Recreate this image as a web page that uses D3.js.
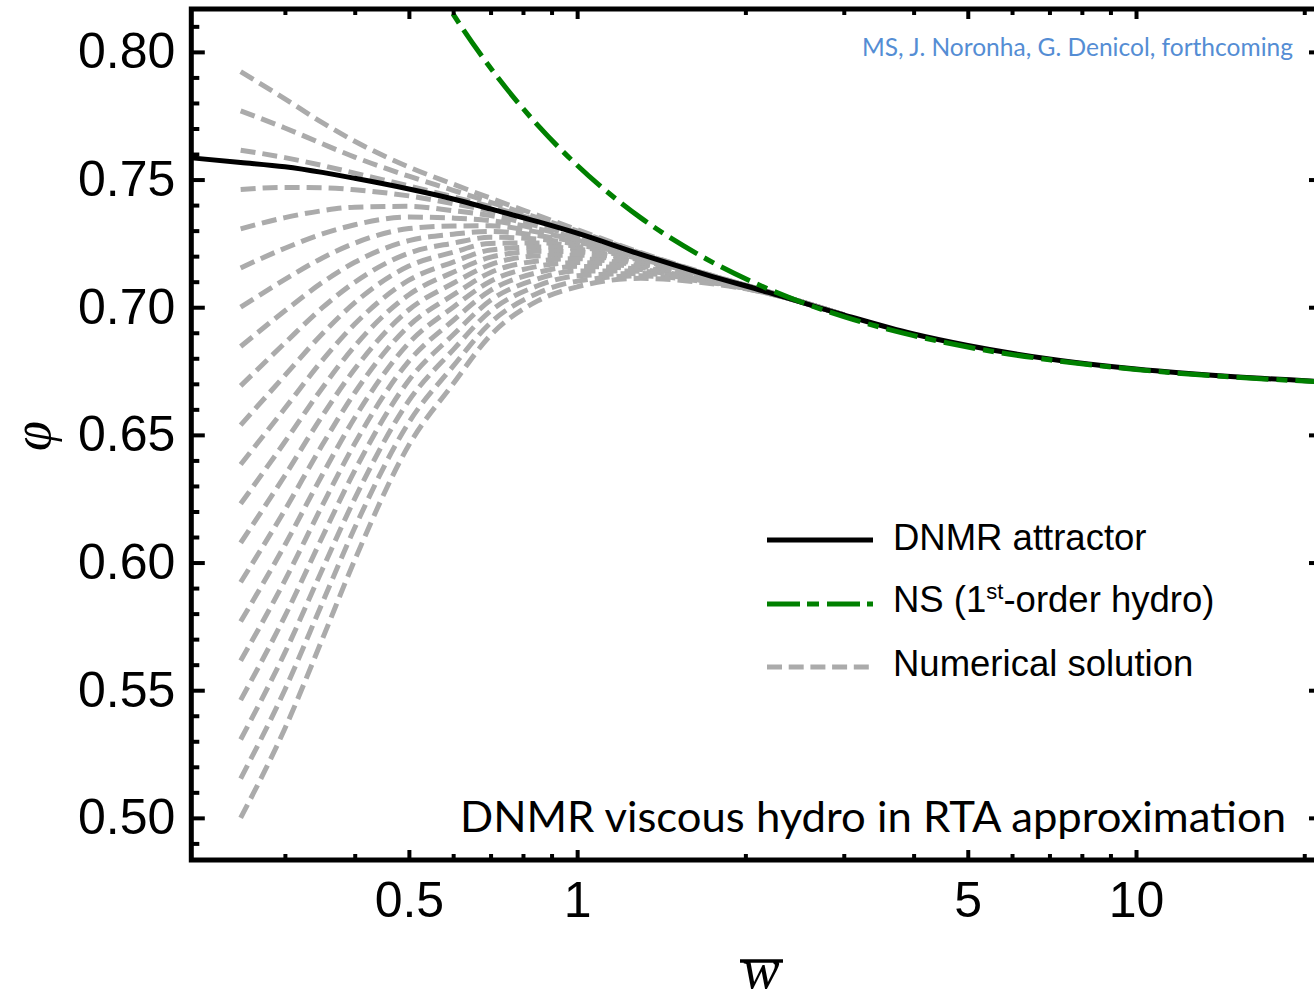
<!DOCTYPE html>
<html>
<head>
<meta charset="utf-8">
<script src="https://cdn.jsdelivr.net/npm/d3@7"></script>
<style>
  body { margin: 0; background: #fff; }
  svg { display: block; }
</style>
</head>
<body>
<div id="chart"></div>
<script>
const wGrid = [0.25, 0.3, 0.35, 0.4, 0.5, 0.6, 0.7, 0.85, 1.0, 1.3, 1.7, 2.2, 3.0];

// phi of the 20 numerical solutions (gray dashed), top start to bottom start
const numerical = [
  [0.7923, 0.7816, 0.7723, 0.7650, 0.7549, 0.7482, 0.7427, 0.7360, 0.7304, 0.7214, 0.7132, 0.7060, 0.6970],
  [0.7769, 0.7702, 0.7640, 0.7588, 0.7513, 0.7458, 0.7411, 0.7350, 0.7299, 0.7212, 0.7131, 0.7060, 0.6970],
  [0.7615, 0.7586, 0.7555, 0.7525, 0.7475, 0.7432, 0.7394, 0.7340, 0.7293, 0.7209, 0.7130, 0.7060, 0.6970],
  [0.7461, 0.7469, 0.7468, 0.7460, 0.7436, 0.7406, 0.7377, 0.7330, 0.7287, 0.7206, 0.7129, 0.7060, 0.6970],
  [0.7307, 0.7351, 0.7378, 0.7392, 0.7395, 0.7378, 0.7359, 0.7318, 0.7279, 0.7203, 0.7128, 0.7060, 0.6970],
  [0.7154, 0.7231, 0.7287, 0.7323, 0.7353, 0.7349, 0.7339, 0.7307, 0.7271, 0.7199, 0.7127, 0.7060, 0.6970],
  [0.7000, 0.7109, 0.7193, 0.7251, 0.7308, 0.7318, 0.7319, 0.7294, 0.7263, 0.7196, 0.7125, 0.7059, 0.6970],
  [0.6846, 0.6986, 0.7097, 0.7176, 0.7261, 0.7286, 0.7297, 0.7281, 0.7255, 0.7192, 0.7124, 0.7059, 0.6970],
  [0.6692, 0.6860, 0.6998, 0.7098, 0.7212, 0.7251, 0.7274, 0.7267, 0.7246, 0.7188, 0.7123, 0.7059, 0.6970],
  [0.6538, 0.6733, 0.6896, 0.7018, 0.7161, 0.7215, 0.7250, 0.7252, 0.7238, 0.7183, 0.7121, 0.7058, 0.6970],
  [0.6384, 0.6604, 0.6792, 0.6934, 0.7106, 0.7177, 0.7224, 0.7236, 0.7228, 0.7178, 0.7119, 0.7058, 0.6970],
  [0.6230, 0.6473, 0.6684, 0.6848, 0.7049, 0.7137, 0.7196, 0.7219, 0.7217, 0.7173, 0.7117, 0.7058, 0.6970],
  [0.6077, 0.6341, 0.6575, 0.6758, 0.6990, 0.7094, 0.7167, 0.7201, 0.7204, 0.7168, 0.7115, 0.7057, 0.6970],
  [0.5923, 0.6206, 0.6461, 0.6665, 0.6927, 0.7048, 0.7136, 0.7181, 0.7190, 0.7162, 0.7113, 0.7057, 0.6970],
  [0.5769, 0.6069, 0.6344, 0.6567, 0.6860, 0.7000, 0.7102, 0.7160, 0.7175, 0.7155, 0.7111, 0.7056, 0.6970],
  [0.5615, 0.5930, 0.6224, 0.6466, 0.6789, 0.6948, 0.7066, 0.7136, 0.7160, 0.7148, 0.7108, 0.7056, 0.6969],
  [0.5461, 0.5790, 0.6100, 0.6360, 0.6714, 0.6892, 0.7027, 0.7111, 0.7142, 0.7141, 0.7105, 0.7055, 0.6969],
  [0.5307, 0.5647, 0.5973, 0.6250, 0.6634, 0.6833, 0.6985, 0.7084, 0.7123, 0.7132, 0.7102, 0.7055, 0.6969],
  [0.5154, 0.5502, 0.5842, 0.6136, 0.6549, 0.6769, 0.6939, 0.7055, 0.7102, 0.7123, 0.7099, 0.7054, 0.6969],
  [0.5000, 0.5350, 0.5700, 0.6010, 0.6460, 0.6700, 0.6890, 0.7025, 0.7080, 0.7113, 0.7095, 0.7054, 0.6969]
];

// DNMR attractor (black)
const attractorW   = [0.204, 0.25, 0.3, 0.35, 0.4, 0.5, 0.6, 0.7, 0.85, 1.0, 1.3, 1.7, 2.2, 3, 4, 5, 7, 10, 15, 21];
const attractorPhi = [0.7585, 0.7567, 0.7550, 0.7528, 0.7505, 0.7463, 0.7424, 0.7385, 0.7335, 0.7290, 0.7207, 0.7128, 0.7058, 0.6970, 0.6895, 0.6850, 0.6797, 0.6758, 0.6728, 0.6710];

// Navier-Stokes, 1st order hydro (green dash-dot)
const nsW   = [0.55, 0.6, 0.7, 0.85, 1.0, 1.3, 1.7, 2.2, 3, 4, 5, 7, 10, 15, 21];
const nsPhi = [0.8283, 0.8148, 0.7937, 0.7713, 0.7556, 0.7350, 0.7190, 0.7071, 0.6963, 0.6889, 0.6844, 0.6794, 0.6756, 0.6726, 0.6709];

// ticks
const xMajor = [0.5, 1, 5, 10];
const xMajorLabels = ["0.5", "1", "5", "10"];
const xMinor = [0.3, 0.4, 0.6, 0.7, 0.8, 0.9, 2, 3, 4, 6, 7, 8, 9, 20];
const yMajor = [0.50, 0.55, 0.60, 0.65, 0.70, 0.75, 0.80];
const yMinor = d3.range(49, 82).map(d => d / 100).filter(v => !yMajor.some(m => Math.abs(m - v) < 1e-9));

const legendItems = ["DNMR attractor", "NS", "Numerical solution"];

const width = 1314, height = 1001;
const frameL = 191.3, frameT = 9, frameB = 860, frameR = 1318;

const x = d3.scaleLog().domain([0.204, 21]).range([frameL, 1316.1]);
const y = d3.scaleLinear().domain([0.4835, 0.8168]).range([frameB, frameT]);

const svg = d3.select("#chart").append("svg")
    .attr("width", width)
    .attr("height", height)
    .attr("viewBox", [0, 0, width, height]);

svg.append("defs").append("clipPath").attr("id", "plot")
  .append("rect")
    .attr("x", frameL).attr("y", frameT)
    .attr("width", frameR - frameL).attr("height", frameB - frameT);

const line = d3.line()
    .x(d => x(d[0]))
    .y(d => y(d[1]))
    .curve(d3.curveMonotoneX);

const plot = svg.append("g").attr("clip-path", "url(#plot)");

// gray numerical solutions
plot.append("g")
  .selectAll("path")
  .data(numerical)
  .join("path")
    .attr("d", row => line(row.map((p, i) => [wGrid[i], p])))
    .attr("fill", "none")
    .attr("stroke", "#ababab")
    .attr("stroke-width", 5)
    .attr("stroke-dasharray", "15,7");

// black attractor
plot.append("path")
    .attr("d", line(attractorW.map((w, i) => [w, attractorPhi[i]])))
    .attr("fill", "none")
    .attr("stroke", "#000")
    .attr("stroke-width", 5);

// green NS
plot.append("path")
    .attr("d", line(nsW.map((w, i) => [w, nsPhi[i]])))
    .attr("fill", "none")
    .attr("stroke", "#008000")
    .attr("stroke-width", 5)
    .attr("stroke-dasharray", "32,8,11,8");

// frame
svg.append("rect")
    .attr("x", frameL).attr("y", frameT)
    .attr("width", frameR - frameL).attr("height", frameB - frameT)
    .attr("fill", "none")
    .attr("stroke", "#000")
    .attr("stroke-width", 5);

function styleAxis(g, size) {
  g.select(".domain").remove();
  g.selectAll("line").attr("stroke-width", 4);
  g.attr("font-family", "'Liberation Sans', Arial, sans-serif").attr("font-size", size);
}

// bottom axis
svg.append("g")
    .attr("transform", `translate(0,${frameB})`)
    .call(d3.axisBottom(x).tickValues(xMajor).tickSize(-10).tickPadding(21.5)
      .tickFormat((d, i) => xMajorLabels[i]))
    .call(g => styleAxis(g, 50));
svg.append("g")
    .attr("transform", `translate(0,${frameB})`)
    .call(d3.axisBottom(x).tickValues(xMinor).tickSize(-6).tickFormat(""))
    .call(g => styleAxis(g, 10));

// top axis (ticks only)
svg.append("g")
    .attr("transform", `translate(0,${frameT})`)
    .call(d3.axisTop(x).tickValues(xMajor).tickSize(-10).tickFormat(""))
    .call(g => styleAxis(g, 10));
svg.append("g")
    .attr("transform", `translate(0,${frameT})`)
    .call(d3.axisTop(x).tickValues(xMinor).tickSize(-6).tickFormat(""))
    .call(g => styleAxis(g, 10));

// left axis
svg.append("g")
    .attr("transform", `translate(${frameL},0)`)
    .call(d3.axisLeft(y).tickValues(yMajor).tickSize(-13.5).tickPadding(16)
      .tickFormat(d3.format(".2f")))
    .call(g => styleAxis(g, 50));
svg.append("g")
    .attr("transform", `translate(${frameL},0)`)
    .call(d3.axisLeft(y).tickValues(yMinor).tickSize(-8).tickFormat(""))
    .call(g => styleAxis(g, 10));

// right axis (ticks only)
svg.append("g")
    .attr("transform", `translate(${frameR},0)`)
    .call(d3.axisRight(y).tickValues(yMajor).tickSize(-9).tickFormat(""))
    .call(g => styleAxis(g, 10));

// axis labels
svg.append("text")
    .attr("transform", "translate(50,436) rotate(-90)")
    .attr("text-anchor", "middle")
    .attr("font-family", "'Liberation Serif', 'Times New Roman', serif")
    .attr("font-style", "italic")
    .attr("font-size", 54)
    .text("φ");

svg.append("text")
    .attr("x", 761).attr("y", 988)
    .attr("text-anchor", "middle")
    .attr("font-family", "'Liberation Serif', 'Times New Roman', serif")
    .attr("font-style", "italic")
    .attr("font-size", 56)
    .text("w");
svg.append("line")
    .attr("x1", 740).attr("x2", 783)
    .attr("y1", 961).attr("y2", 961)
    .attr("stroke", "#000").attr("stroke-width", 3.5);

// legend
const legendX = 767, legendY = [540, 604, 667];
const lg = svg.append("g");
lg.append("line").attr("x1", legendX).attr("x2", legendX + 106).attr("y1", legendY[0]).attr("y2", legendY[0])
    .attr("stroke", "#000").attr("stroke-width", 5);
lg.append("line").attr("x1", legendX).attr("x2", legendX + 106).attr("y1", legendY[1]).attr("y2", legendY[1])
    .attr("stroke", "#008000").attr("stroke-width", 5).attr("stroke-dasharray", "33,7,12,8");
lg.append("line").attr("x1", legendX).attr("x2", legendX + 106).attr("y1", legendY[2]).attr("y2", legendY[2])
    .attr("stroke", "#ababab").attr("stroke-width", 5).attr("stroke-dasharray", "15,6.7");

const lt = lg.append("g")
    .attr("font-family", "'Liberation Sans', Arial, sans-serif")
    .attr("font-size", 36.5);
lt.append("text").attr("x", 893).attr("y", 550).text(legendItems[0]);
const ns = lt.append("text").attr("x", 893).attr("y", 612);
ns.append("tspan").text(legendItems[1] + " (1");
ns.append("tspan").attr("font-size", 22).attr("dy", -13).text("st");
ns.append("tspan").attr("dy", 13).text("-order hydro)");
lt.append("text").attr("x", 893).attr("y", 676).text(legendItems[2]);

// annotations
svg.append("text")
    .attr("x", 460).attr("y", 832)
    .attr("font-family", "Lato, 'Open Sans', sans-serif")
    .attr("font-size", 42)
    .attr("textLength", 826)
    .attr("lengthAdjust", "spacingAndGlyphs")
    .text("DNMR viscous hydro in RTA approximation");

svg.append("text")
    .attr("x", 862).attr("y", 56)
    .attr("font-family", "Lato, 'Open Sans', sans-serif")
    .attr("font-size", 24.5)
    .attr("textLength", 431)
    .attr("lengthAdjust", "spacingAndGlyphs")
    .attr("fill", "#548dd4")
    .text("MS, J. Noronha, G. Denicol, forthcoming");
</script>
</body>
</html>
